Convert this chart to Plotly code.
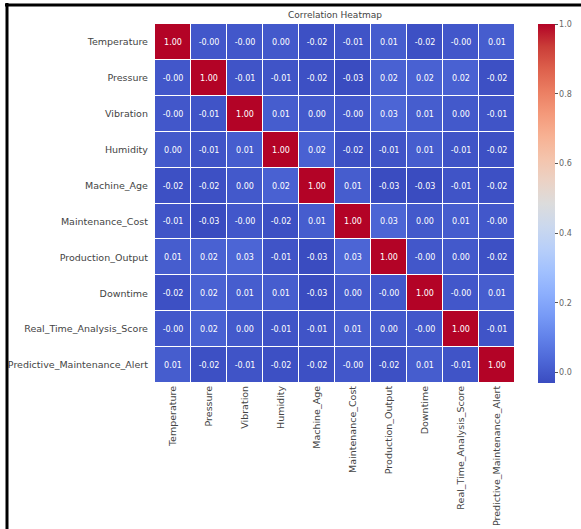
import plotly.graph_objects as go

features = ["Temperature", "Pressure", "Vibration", "Humidity", "Machine_Age",
            "Maintenance_Cost", "Production_Output", "Downtime",
            "Real_Time_Analysis_Score", "Predictive_Maintenance_Alert"]

row_temperature = [1.00, -0.003, -0.003, 0.002, -0.02, -0.01, 0.01, -0.02, -0.003, 0.01]
row_pressure = [-0.003, 1.00, -0.01, -0.01, -0.02, -0.03, 0.02, 0.02, 0.02, -0.02]
row_vibration = [-0.003, -0.01, 1.00, 0.01, 0.002, -0.003, 0.03, 0.01, 0.002, -0.01]
row_humidity = [0.002, -0.01, 0.01, 1.00, 0.02, -0.02, -0.01, 0.01, -0.01, -0.02]
row_machine_age = [-0.02, -0.02, 0.002, 0.02, 1.00, 0.01, -0.03, -0.03, -0.01, -0.02]
row_maint_cost = [-0.01, -0.03, -0.003, -0.02, 0.01, 1.00, 0.03, 0.002, 0.01, -0.003]
row_prod_output = [0.01, 0.02, 0.03, -0.01, -0.03, 0.03, 1.00, -0.003, 0.002, -0.02]
row_downtime = [-0.02, 0.02, 0.01, 0.01, -0.03, 0.002, -0.003, 1.00, -0.003, 0.01]
row_realtime = [-0.003, 0.02, 0.002, -0.01, -0.01, 0.01, 0.002, -0.003, 1.00, -0.01]
row_alert = [0.01, -0.02, -0.01, -0.02, -0.02, -0.003, -0.02, 0.01, -0.01, 1.00]

corr = [row_temperature, row_pressure, row_vibration, row_humidity, row_machine_age,
        row_maint_cost, row_prod_output, row_downtime, row_realtime, row_alert]

colorbar_ticks = [0.0, 0.2, 0.4, 0.6, 0.8, 1.0]

text = [[f"{v:.2f}" for v in row] for row in corr]

cw = [
    (0.0, (0.2298, 0.2987, 0.7537)), (0.0625, (0.3039, 0.4065, 0.8450)),
    (0.125, (0.3830, 0.5094, 0.9174)), (0.1875, (0.4667, 0.6046, 0.9682)),
    (0.25, (0.5530, 0.6889, 0.9954)), (0.3125, (0.6392, 0.7596, 0.9982)),
    (0.375, (0.7222, 0.8140, 0.9766)), (0.4375, (0.7987, 0.8498, 0.9317)),
    (0.5, (0.8654, 0.8654, 0.8654)), (0.5625, (0.9241, 0.8274, 0.7745)),
    (0.625, (0.9589, 0.7698, 0.6780)), (0.6875, (0.9700, 0.6943, 0.5794)),
    (0.75, (0.9580, 0.6028, 0.4818)), (0.8125, (0.9239, 0.4973, 0.3880)),
    (0.875, (0.8692, 0.3783, 0.3003)), (0.9375, (0.7956, 0.2413, 0.2205)),
    (1.0, (0.7057, 0.0156, 0.1502)),
]
colorscale = [[p, f"rgb({int(r*255)},{int(g*255)},{int(b*255)})"] for p, (r, g, b) in cw]

zmin = min(min(r) for r in corr)

L, R, T, B = 155, 66, 24, 146
PW, PH = 581 - L - R, 529 - T - B

fig = go.Figure(go.Heatmap(
    z=corr, x=features, y=features, text=text, texttemplate="%{text}",
    textfont=dict(color="white", size=8, family="DejaVu Sans"),
    colorscale=colorscale, zmin=zmin, zmax=1.0, xgap=1, ygap=1,
    colorbar=dict(x=(538 - L) / PW, xanchor="left", xpad=0, ypad=0,
                  y=0.5, yanchor="middle", len=1.0,
                  thickness=17, outlinewidth=0, tickvals=colorbar_ticks,
                  ticktext=[f"{t:.1f}" for t in colorbar_ticks], ticks="outside",
                  ticklen=3, tickcolor="#555",
                  tickfont=dict(size=8, color="#666", family="DejaVu Sans")),
))

fig.update_layout(
    width=581, height=529,
    margin=dict(l=L, r=R, t=T, b=B, autoexpand=False),
    paper_bgcolor="white", plot_bgcolor="white",
    font=dict(family="DejaVu Sans", color="#444"),
    title=dict(text="Correlation Heatmap", x=(L + PW / 2) / 581, xanchor="center",
               y=1 - 15 / 529, yanchor="middle", font=dict(size=9, color="#444")),
    xaxis=dict(tickangle=-90, tickfont=dict(size=9.5), showgrid=False, zeroline=False,
               ticks=""),
    yaxis=dict(autorange="reversed", tickfont=dict(size=9.5), showgrid=False,
               zeroline=False, ticks="", ticksuffix="  "),
    shapes=[
        dict(type="line", xref="paper", yref="paper", x0=(7 - L) / PW, x1=(7 - L) / PW,
             y0=1 - (3 - T) / PH, y1=1 - (540 - T) / PH, line=dict(color="black", width=3)),
        dict(type="line", xref="paper", yref="paper", x0=(5 - L) / PW, x1=(600 - L) / PW,
             y0=1 - (5 - T) / PH, y1=1 - (5 - T) / PH, line=dict(color="black", width=3)),
    ],
)

fig.write_html("out.html")
